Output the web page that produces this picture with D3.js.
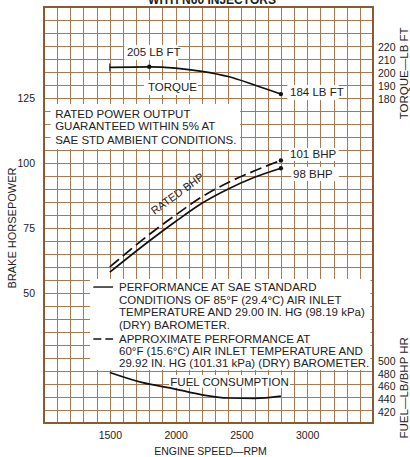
<!DOCTYPE html>
<html>
<head>
<meta charset="utf-8">
<script src="https://cdn.jsdelivr.net/npm/d3@7"></script>
<style>
body { margin:0; background:#fff; }
text { font-family: "Liberation Sans", Arial, sans-serif; fill:#222; }
</style>
</head>
<body>
<svg id="chart"></svg>
<script>
// engine speed (rpm) for each curve
var torqueRpm = [1500, 1800, 2000, 2200, 2400, 2600, 2800]
var torqueVals = [204.5, 205, 204, 201.5, 197.5, 191, 184]

var bhpRpm = [1500, 1800, 2000, 2200, 2400, 2600, 2800]
var bhpSae = [58, 70, 77.5, 84.5, 90, 94.5, 98]
var bhpApprox = [60, 72.5, 80, 87, 92.5, 97, 101]

var fuelRpm = [1500, 1750, 2000, 2200, 2400, 2600, 2800]
var fuelVals = [482, 466, 456, 447, 442, 441.5, 445]

var rpmTicks = [1500, 2000, 2500, 3000]
var hpTicks = [50, 75, 100, 125]
var torqueTicks = [180, 190, 200, 210, 220]
var fuelTicks = [420, 440, 460, 480, 500]

var size = {width: 410, height: 457}
var margins = {top: 7, right: 37, bottom: 34, left: 44}
var plotW = size.width - margins.left - margins.right
var plotH = size.height - margins.top - margins.bottom

var gridColor = "#a8784e"

var svg = d3.select("#chart")
    .attr("width", size.width)
    .attr("height", size.height)

var xScale = d3.scaleLinear().domain([1000, 3500]).range([margins.left, margins.left + plotW])
var yScale = d3.scaleLinear().domain([0, 160]).range([margins.top + plotH, margins.top])
var tScale = d3.scaleLinear().domain([180, 220]).range([yScale(124.5), yScale(144.5)])
var fScale = d3.scaleLinear().domain([420, 500]).range([412, 361])

// grid
var vLines = d3.range(1000, 3501, 100)
var hLines = d3.range(0, 161, 5)
svg.selectAll("line.vgrid").data(vLines).enter().append("line")
    .attr("class", "vgrid")
    .attr("x1", function(d){return Math.round(xScale(d)) + 0.5})
    .attr("x2", function(d){return Math.round(xScale(d)) + 0.5})
    .attr("y1", yScale(0))
    .attr("y2", yScale(160))
    .attr("stroke", gridColor)
    .attr("stroke-width", 1.2)
    .attr("shape-rendering", "crispEdges")
svg.selectAll("line.hgrid").data(hLines).enter().append("line")
    .attr("class", "hgrid")
    .attr("x1", xScale(1000))
    .attr("x2", xScale(3500))
    .attr("y1", function(d){return Math.round(yScale(d)) + 0.5})
    .attr("y2", function(d){return Math.round(yScale(d)) + 0.5})
    .attr("stroke", gridColor)
    .attr("stroke-width", 1.2)
    .attr("shape-rendering", "crispEdges")
svg.append("rect")
    .attr("x", xScale(1000)).attr("y", yScale(160))
    .attr("width", plotW).attr("height", plotH)
    .attr("fill", "none").attr("stroke", "#8a5a30").attr("stroke-width", 2)

// white label boxes
var box = function(x0, y0, x1, y1)
{
    svg.append("rect").attr("x", x0).attr("y", y0)
        .attr("width", x1 - x0).attr("height", y1 - y0).attr("fill", "#fff")
}
box(xScale(1610), tScale(221.8), xScale(2020), tScale(210.2))   // 205 LB FT
box(xScale(1760), tScale(194.8), xScale(2170), tScale(183.3))   // TORQUE
box(xScale(2850), tScale(191), xScale(3240), tScale(179.5))     // 184 LB FT
box(xScale(1050), yScale(122.7), xScale(2490), yScale(105.4))   // rated power
box(xScale(2860), yScale(105.8), xScale(3240), yScale(100.8))   // 101 BHP
box(xScale(2880), yScale(98.5), xScale(3240), yScale(93.1))     // 98 BHP
box(xScale(1350), yScale(55.4), xScale(3480), yScale(20.4))     // legend
box(xScale(1950), fScale(478), xScale(2870), fScale(458))       // fuel consumption

var line = function(xs, ys, yS)
{
    return d3.line()
        .x(function(d, i){return xScale(xs[i])})
        .y(function(d){return yS(d)})
        .curve(d3.curveMonotoneX)(ys)
}

svg.append("path").attr("d", line(torqueRpm, torqueVals, tScale))
    .attr("fill", "none").attr("stroke", "#111").attr("stroke-width", 1.7)
svg.append("path").attr("d", line(bhpRpm, bhpSae, yScale))
    .attr("fill", "none").attr("stroke", "#111").attr("stroke-width", 1.7)
svg.append("path").attr("d", line(bhpRpm, bhpApprox, yScale))
    .attr("fill", "none").attr("stroke", "#111").attr("stroke-width", 1.7)
    .attr("stroke-dasharray", "12,5")
svg.append("path").attr("d", line(fuelRpm, fuelVals, fScale))
    .attr("fill", "none").attr("stroke", "#111").attr("stroke-width", 1.7)

// end points
var dots = [[1800, tScale(205)], [2800, tScale(184)], [2800, yScale(101)], [2800, yScale(98)]]
svg.selectAll("circle").data(dots).enter().append("circle")
    .attr("cx", function(d){return xScale(d[0])}).attr("cy", function(d){return d[1]})
    .attr("r", 2.2).attr("fill", "#111")
svg.append("line")
    .attr("x1", xScale(1500)).attr("x2", xScale(1500))
    .attr("y1", tScale(204.5) - 4).attr("y2", tScale(204.5) + 4)
    .attr("stroke", "#111")

// texts
var label = function(x, y, s, fs)
{
    return svg.append("text").attr("x", x).attr("y", y)
        .attr("font-size", fs || 11.5).text(s)
}
label(xScale(1630), tScale(213.3), "205 LB FT")
label(xScale(1790), tScale(186.4), "TORQUE")
label(xScale(2870), tScale(182.5), "184 LB FT")
label(xScale(1085), yScale(117.3), "RATED POWER OUTPUT")
label(xScale(1085), yScale(112.7), "GUARANTEED WITHIN 5% AT")
label(xScale(1085), yScale(107.3), "SAE STD AMBIENT CONDITIONS.")
label(xScale(2870), yScale(101.9), "101 BHP")
label(xScale(2892), yScale(94.2), "98 BHP")
label(xScale(1960), fScale(461), "FUEL CONSUMPTION")

svg.append("text")
    .attr("transform", "translate(" + xScale(2030) + "," + yScale(87) + ") rotate(-36)")
    .attr("font-size", 11).attr("text-anchor", "middle").text("RATED BHP")

var legend1 = ["PERFORMANCE AT SAE STANDARD",
    "CONDITIONS OF 85\u00B0F (29.4\u00B0C) AIR INLET",
    "TEMPERATURE AND 29.00 IN. HG (98.19 kPa)",
    "(DRY) BAROMETER."]
var legend2 = ["APPROXIMATE PERFORMANCE AT",
    "60\u00B0F (15.6\u00B0C) AIR INLET TEMPERATURE AND",
    "29.92 IN. HG (101.31 kPa) (DRY) BAROMETER."]
legend1.forEach(function(s, i)
{
    label(xScale(1570), yScale(50.8) + i * 12.7, s)
})
legend2.forEach(function(s, i)
{
    label(xScale(1570), yScale(30.8) + i * 12, s)
})
svg.append("line").attr("x1", xScale(1375)).attr("x2", xScale(1525))
    .attr("y1", yScale(52.3)).attr("y2", yScale(52.3)).attr("stroke", "#111").attr("stroke-width", 1.4)
svg.append("line").attr("x1", xScale(1375)).attr("x2", xScale(1525))
    .attr("y1", yScale(32.3)).attr("y2", yScale(32.3)).attr("stroke", "#111").attr("stroke-width", 1.4)
    .attr("stroke-dasharray", "8,4")

// axes
var styleAxis = function(sel)
{
    sel.select(".domain").remove()
    sel.selectAll("text").attr("font-size", 10.5).attr("fill", "#222")
        .style("font-family", "'Liberation Sans', Arial, sans-serif")
}
svg.append("g").attr("transform", "translate(0," + yScale(0) + ")")
    .call(d3.axisBottom(xScale).tickValues(rpmTicks).tickSize(0).tickPadding(9).tickFormat(d3.format("d")))
    .call(styleAxis)
svg.append("g").attr("transform", "translate(" + xScale(1000) + ",0)")
    .call(d3.axisLeft(yScale).tickValues(hpTicks).tickSize(0).tickPadding(9))
    .call(styleAxis)
svg.append("g").attr("transform", "translate(" + (xScale(3500) + 1) + ",0)")
    .call(d3.axisRight(tScale).tickValues(torqueTicks).tickSize(0).tickPadding(4))
    .call(styleAxis)
svg.append("g").attr("transform", "translate(" + (xScale(3500) + 1) + ",0)")
    .call(d3.axisRight(fScale).tickValues(fuelTicks).tickSize(0).tickPadding(4))
    .call(styleAxis)

svg.append("text").attr("x", (xScale(1000) + xScale(3500)) / 2 + 2).attr("y", 455)
    .attr("font-size", 10.5).attr("text-anchor", "middle").text("ENGINE SPEED\u2014RPM")
svg.append("text").attr("transform", "translate(16," + yScale(75) + ") rotate(-90)")
    .attr("font-size", 11).attr("text-anchor", "middle").text("BRAKE HORSEPOWER")
svg.append("text").attr("transform", "translate(408," + tScale(200) + ") rotate(-90)")
    .attr("font-size", 11.5).attr("text-anchor", "middle").text("TORQUE\u2014LB FT")
svg.append("text").attr("transform", "translate(408," + fScale(458) + ") rotate(-90)")
    .attr("font-size", 11.5).attr("text-anchor", "middle").text("FUEL\u2014LB/BHP HR")
svg.append("text").attr("x", 212).attr("y", 3.5)
    .attr("font-size", 12).attr("font-weight", "bold").attr("text-anchor", "middle")
    .text("WITH N60 INJECTORS")
</script>
</body>
</html>
